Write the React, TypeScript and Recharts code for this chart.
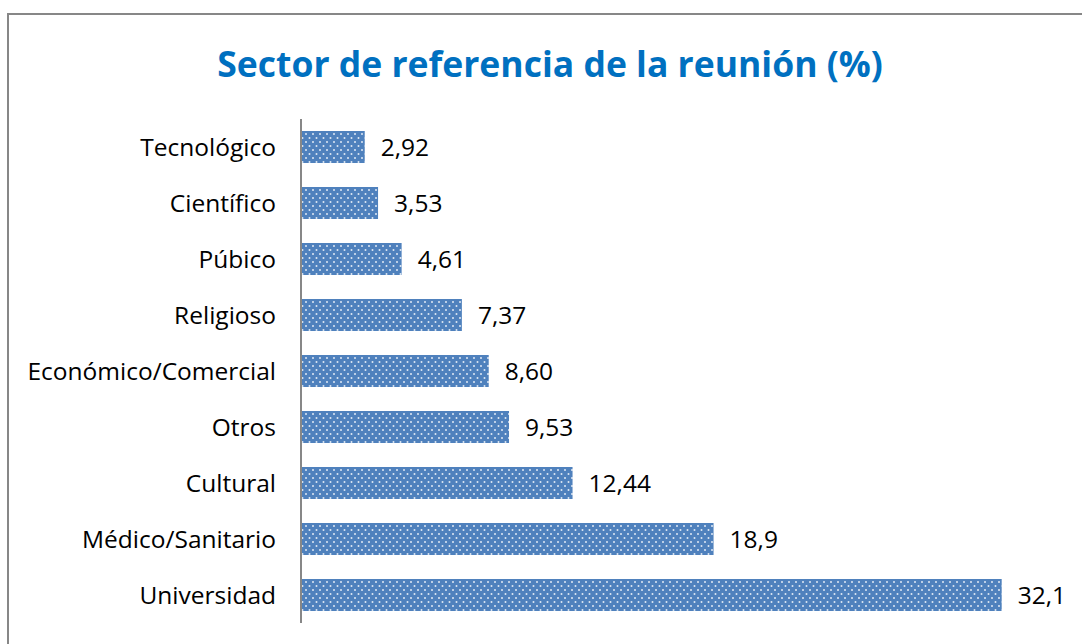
import type { FC } from 'react';
import { BarChart, Bar, XAxis, YAxis, LabelList } from 'recharts';

const sectors = [
  'Tecnológico',
  'Científico',
  'Púbico',
  'Religioso',
  'Económico/Comercial',
  'Otros',
  'Cultural',
  'Médico/Sanitario',
  'Universidad',
];
const shares = [2.92, 3.53, 4.61, 7.37, 8.6, 9.53, 12.44, 18.9, 32.1];
const shareLabels = ['2,92', '3,53', '4,61', '7,37', '8,60', '9,53', '12,44', '18,9', '32,1'];

const data = sectors.map((s, i) => ({ sector: s, share: shares[i], label: shareLabels[i] }));

const font = "'Open Sans', 'Noto Sans', sans-serif";

const App: FC = () => {
  return (
    <div
      style={{
        position: 'absolute',
        left: 0,
        top: 0,
        width: 1082,
        height: 644,
        overflow: 'hidden',
        background: '#fff',
        fontFamily: font,
      }}
    >
      <div
        style={{
          position: 'absolute',
          left: 7,
          top: 13,
          width: 1200,
          height: 800,
          border: '2px solid #878787',
        }}
      />
      <div
        style={{
          position: 'absolute',
          left: 0,
          top: 39,
          width: 1100,
          textAlign: 'center',
          color: '#0070C0',
          fontWeight: 700,
          fontSize: 35.5,
        }}
      >
        Sector de referencia de la reunión (%)
      </div>
      <div style={{ position: 'absolute', left: 0, top: 0 }}>
        <BarChart
          width={1082}
          height={644}
          data={data}
          layout="vertical"
          margin={{ top: 119, right: 17, bottom: 21, left: 0 }}
          barSize={32}
        >
          <defs>
            <pattern id="dots" width="7" height="8" patternUnits="userSpaceOnUse">
              <rect width="7" height="8" fill="#4F81BD" />
              <circle cx="1.5" cy="2" r="1" fill="#dfe8f4" />
              <circle cx="5" cy="6" r="1" fill="#dfe8f4" />
            </pattern>
          </defs>
          <XAxis type="number" domain={[0, 35]} hide />
          <YAxis
            type="category"
            dataKey="sector"
            width={301}
            tickLine={false}
            tickSize={0}
            tickMargin={25}
            axisLine={{ stroke: '#878787', strokeWidth: 2 }}
            tick={{ fill: '#000', fontSize: 24.5, fontFamily: font }}
            interval={0}
          />
          <Bar dataKey="share" fill="url(#dots)" isAnimationActive={false}>
            <LabelList
              dataKey="label"
              position="right"
              offset={16}
              fill="#000"
              fontSize={24.5}
              fontFamily={font}
            />
          </Bar>
        </BarChart>
      </div>
    </div>
  );
};

export default App;
